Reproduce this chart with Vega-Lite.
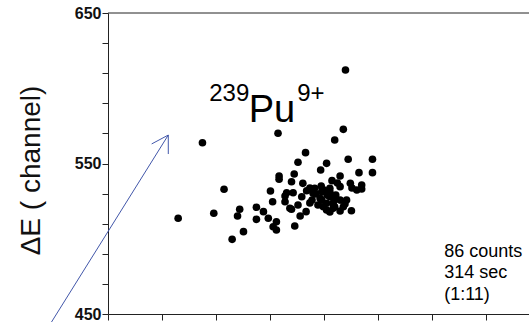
{
  "$schema": "https://vega.github.io/schema/vega-lite/v6.json",
  "usermeta": {"embedOptions": {"actions": false}},
  "autosize": {"type": "none"},
  "padding": {"left": 108, "top": 13, "right": 0, "bottom": 8},
  "width": 421,
  "height": 301,
  "background": "white",
  "config": {
    "view": {"stroke": null},
    "font": "Liberation Sans",
    "axis": {"grid": false, "domainColor": "#222", "tickColor": "#222", "labelColor": "#111", "titleColor": "#111"}
  },
  "datasets": {
    "events": [
      {"x": 4.40, "y": 612.1}, {"x": 3.15, "y": 570.1}, {"x": 1.75, "y": 563.8}, {"x": 4.36, "y": 572.7},
      {"x": 4.20, "y": 565.6}, {"x": 3.66, "y": 557.2}, {"x": 3.52, "y": 550.8}, {"x": 4.45, "y": 552.8},
      {"x": 4.90, "y": 552.8}, {"x": 4.05, "y": 550.1}, {"x": 3.94, "y": 545.7}, {"x": 4.90, "y": 543.9},
      {"x": 4.65, "y": 543.9}, {"x": 3.17, "y": 541.7}, {"x": 3.17, "y": 539.5}, {"x": 3.45, "y": 543.0},
      {"x": 3.40, "y": 537.9}, {"x": 4.30, "y": 541.7}, {"x": 4.15, "y": 538.6}, {"x": 3.61, "y": 536.8},
      {"x": 4.49, "y": 536.8}, {"x": 4.70, "y": 535.7}, {"x": 4.61, "y": 532.4}, {"x": 4.30, "y": 534.6},
      {"x": 2.15, "y": 532.9}, {"x": 3.01, "y": 531.7}, {"x": 3.31, "y": 530.6}, {"x": 3.43, "y": 530.6},
      {"x": 3.68, "y": 531.9}, {"x": 3.83, "y": 533.5}, {"x": 3.96, "y": 531.3}, {"x": 3.80, "y": 530.2},
      {"x": 3.59, "y": 527.9}, {"x": 4.11, "y": 533.5}, {"x": 4.11, "y": 527.9}, {"x": 4.30, "y": 525.7},
      {"x": 3.05, "y": 524.6}, {"x": 3.28, "y": 524.6}, {"x": 3.96, "y": 525.7}, {"x": 4.17, "y": 523.6},
      {"x": 4.42, "y": 525.7}, {"x": 3.99, "y": 521.3}, {"x": 4.17, "y": 520.2}, {"x": 4.36, "y": 521.3},
      {"x": 4.51, "y": 518.6}, {"x": 3.40, "y": 519.6}, {"x": 3.67, "y": 518.0}, {"x": 4.05, "y": 519.1},
      {"x": 2.75, "y": 520.9}, {"x": 2.44, "y": 519.6}, {"x": 2.88, "y": 518.0}, {"x": 1.96, "y": 516.9},
      {"x": 2.40, "y": 515.1}, {"x": 3.56, "y": 515.1}, {"x": 2.97, "y": 513.6}, {"x": 2.75, "y": 512.9},
      {"x": 1.30, "y": 513.6}, {"x": 3.12, "y": 511.3}, {"x": 3.06, "y": 508.0}, {"x": 3.12, "y": 505.8},
      {"x": 3.46, "y": 508.5}, {"x": 2.51, "y": 504.7}, {"x": 2.30, "y": 499.6}, {"x": 4.00, "y": 532.3},
      {"x": 4.11, "y": 531.3}, {"x": 3.93, "y": 526.8}, {"x": 4.05, "y": 523.6}, {"x": 4.19, "y": 525.7},
      {"x": 4.20, "y": 521.3}, {"x": 3.37, "y": 520.2}, {"x": 3.74, "y": 533.7}, {"x": 3.85, "y": 529.7},
      {"x": 3.78, "y": 525.7}, {"x": 4.06, "y": 529.0}, {"x": 4.22, "y": 529.0}, {"x": 4.39, "y": 523.1},
      {"x": 4.30, "y": 518.4}, {"x": 4.11, "y": 517.8}, {"x": 3.89, "y": 522.4}, {"x": 3.74, "y": 523.8},
      {"x": 3.28, "y": 528.4}, {"x": 4.52, "y": 533.7}, {"x": 4.70, "y": 533.1}, {"x": 3.52, "y": 522.4},
      {"x": 3.95, "y": 535.0}, {"x": 4.25, "y": 537.0}
    ],
    "border": [
      {"x": 0, "y": 650, "x2": 7.8}
    ],
    "arrow": [
      {"x": -1.093, "y": 442.0, "x2": 1.117, "y2": 568.9},
      {"x": 0.809, "y": 563.0, "x2": 1.117, "y2": 568.9},
      {"x": 1.117, "y": 556.3, "x2": 1.117, "y2": 568.9}
    ],
    "small": [
      {"x": 1.876, "y": 591.5, "text": "239"},
      {"x": 3.506, "y": 591.5, "text": "9+"}
    ],
    "big": [
      {"x": 2.607, "y": 577.8, "text": "Pu"}
    ],
    "note": [
      {"x": 6.228, "y": 488.1, "text": "86 counts\n314 sec\n(1:11)"}
    ]
  },
  "encoding": {
    "x": {
      "field": "x", "type": "quantitative",
      "scale": {"domain": [0, 7.8], "nice": false, "zero": false},
      "axis": {"values": [0, 1, 2, 3, 4, 5, 6, 7], "labels": false, "tickSize": 6, "title": null, "domain": true}
    },
    "y": {
      "field": "y", "type": "quantitative",
      "scale": {"domain": [450, 650], "nice": false, "zero": false},
      "axis": {
        "values": [450, 470, 490, 510, 530, 550, 570, 590, 610, 630, 650],
        "labelExpr": "datum.value % 100 == 50 ? datum.label : ''",
        "tickSize": 6, "labelPadding": 1, "labelFontSize": 16, "labelFont": "Liberation Sans", "labelFontWeight": "bold",
        "title": "ΔE ( channel)", "titleFontSize": 28, "titleFontWeight": "normal", "titleFont": "Liberation Sans",
        "titleAngle": -90, "titleX": -69, "titleY": 157, "titleAlign": "center", "titleBaseline": "alphabetic"
      }
    }
  },
  "layer": [
    {
      "data": {"name": "border"},
      "mark": {"type": "rule", "color": "#222", "strokeWidth": 1},
      "encoding": {"x2": {"field": "x2"}}
    },
    {
      "data": {"name": "events"},
      "mark": {"type": "point", "filled": true, "shape": "circle", "size": 58, "color": "black", "opacity": 1}
    },
    {
      "data": {"name": "arrow"},
      "mark": {"type": "rule", "color": "#4257aa", "strokeWidth": 1},
      "encoding": {"x2": {"field": "x2"}, "y2": {"field": "y2"}}
    },
    {
      "data": {"name": "small"},
      "mark": {"type": "text", "fontSize": 24, "align": "left", "baseline": "alphabetic", "color": "black"},
      "encoding": {"text": {"field": "text"}}
    },
    {
      "data": {"name": "big"},
      "mark": {"type": "text", "fontSize": 38, "align": "left", "baseline": "alphabetic", "color": "black"},
      "encoding": {"text": {"field": "text"}}
    },
    {
      "data": {"name": "note"},
      "mark": {"type": "text", "fontSize": 18, "lineHeight": 21.5, "lineBreak": "\n", "align": "left", "baseline": "alphabetic", "color": "black"},
      "encoding": {"text": {"field": "text"}}
    }
  ]
}
